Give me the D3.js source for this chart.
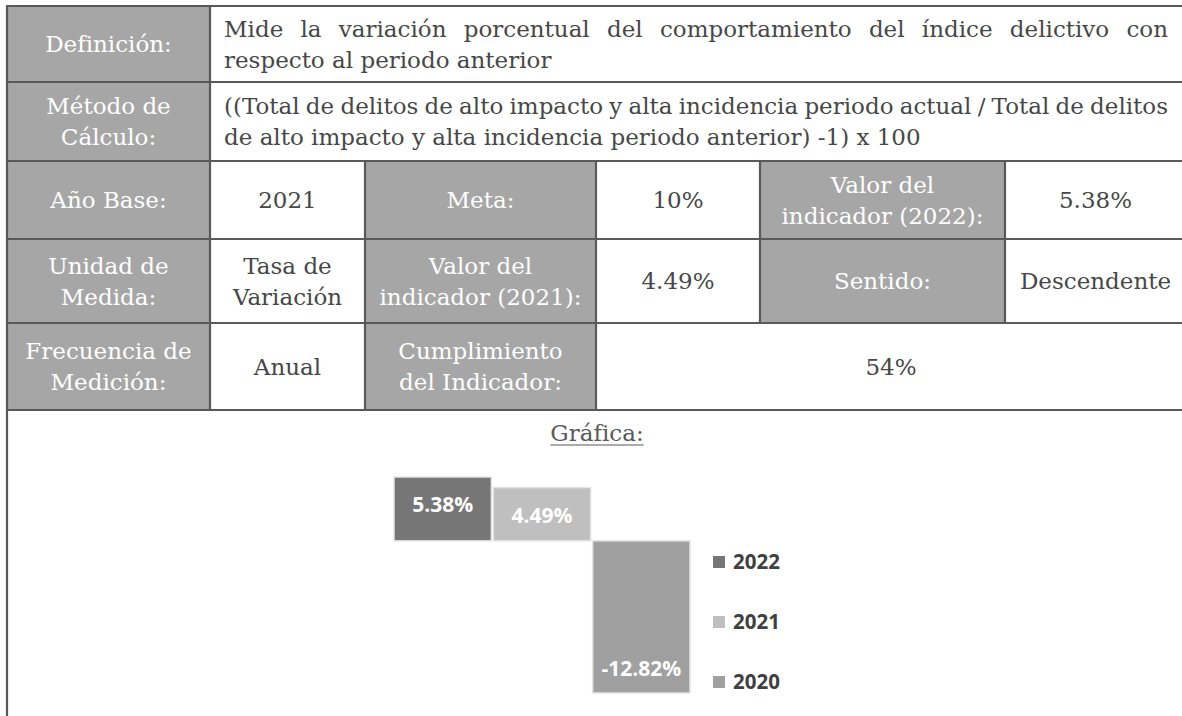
<!DOCTYPE html>
<html lang="es">
<head>
    <meta charset="UTF-8">
    <title>Ficha del indicador</title>
    <script src="https://cdn.jsdelivr.net/npm/d3@7/dist/d3.min.js"></script>
    <style>
        body {
            margin: 0;
            padding: 0;
            background: #fff;
        }
        svg {
            display: block;
        }
        .cell-text {
            font-family: 'DejaVu Serif', serif;
            font-size: 23px;
        }
        .bar-label {
            font-family: 'Open Sans', sans-serif;
            font-weight: 700;
            font-size: 21px;
            fill: #fff;
        }
        .legend-text {
            font-family: 'Open Sans', sans-serif;
            font-weight: 700;
            font-size: 20.5px;
            fill: #404040;
        }
    </style>
</head>
<body>
<script>
    // chart data
    const years = ["2022", "2021", "2020"];
    const values = [5.38, 4.49, -12.82];
    const barColors = ["#767676", "#bfbfbf", "#a0a0a0"];
    const chartTitle = "Gráfica:";

    // table contents, one array per row: label cells are grey
    const rowDefinicion = [
        { lines: ["Definición:"], label: true },
        { lines: ["Mide la variación porcentual del comportamiento del índice delictivo con", "respecto al periodo anterior"], span: 5, left: true }
    ];
    const rowMetodo = [
        { lines: ["Método de", "Cálculo:"], label: true },
        { lines: ["((Total de delitos de alto impacto y alta incidencia periodo actual / Total de delitos", "de alto impacto y alta incidencia periodo anterior) -1) x 100"], span: 5, left: true }
    ];
    const rowBase = [
        { lines: ["Año Base:"], label: true },
        { lines: ["2021"] },
        { lines: ["Meta:"], label: true },
        { lines: ["10%"] },
        { lines: ["Valor del", "indicador (2022):"], label: true },
        { lines: ["5.38%"] }
    ];
    const rowUnidad = [
        { lines: ["Unidad de", "Medida:"], label: true },
        { lines: ["Tasa de", "Variación"] },
        { lines: ["Valor del", "indicador (2021):"], label: true },
        { lines: ["4.49%"] },
        { lines: ["Sentido:"], label: true },
        { lines: ["Descendente"] }
    ];
    const rowFrecuencia = [
        { lines: ["Frecuencia de", "Medición:"], label: true },
        { lines: ["Anual"] },
        { lines: ["Cumplimiento", "del Indicador:"], label: true },
        { lines: ["54%"], span: 3 }
    ];
    const tableRows = [rowDefinicion, rowMetodo, rowBase, rowUnidad, rowFrecuencia];

    // layout
    const W = 1182, H = 716;
    const colEdges = [7, 210, 365, 596, 760, 1005, 1192];
    const rowEdges = [6, 82, 161, 239, 323, 410];
    const lineGap = 31;
    const borderColor = "#595959";
    const labelFill = "#a6a6a6";
    const textColor = "#474747";

    const svg = d3.select("body").append("svg")
        .attr("width", W)
        .attr("height", H);

    const table = svg.append("g").attr("class", "table");

    tableRows.forEach((row, r) => {
        let c = 0;
        const y0 = rowEdges[r], y1 = rowEdges[r + 1];
        const cy = (y0 + y1) / 2;
        row.forEach(cell => {
            const span = cell.span || 1;
            const x0 = colEdges[c], x1 = colEdges[c + span];
            c += span;

            table.append("rect")
                .attr("x", x0)
                .attr("y", y0)
                .attr("width", x1 - x0)
                .attr("height", y1 - y0)
                .attr("fill", cell.label ? labelFill : "#fff");

            const n = cell.lines.length;
            const firstBase = cy - (n - 1) * lineGap / 2 + 8;
            const rightEdge = Math.min(x1, W) - 14;

            cell.lines.forEach((line, i) => {
                const t = table.append("text")
                    .attr("class", "cell-text")
                    .attr("y", firstBase + i * lineGap)
                    .attr("fill", cell.label ? "#fff" : textColor)
                    .text(line);
                if (cell.left) {
                    t.attr("x", x0 + 14).attr("text-anchor", "start");
                    // justify every line but the last one
                    if (i < n - 1) {
                        const natural = t.node().getComputedTextLength();
                        const gaps = line.split(" ").length - 1;
                        const target = rightEdge - (x0 + 14);
                        t.style("word-spacing", ((target - natural) / gaps) + "px");
                    }
                } else {
                    t.attr("x", (x0 + Math.min(x1, W + 4)) / 2).attr("text-anchor", "middle");
                }
            });
        });
    });

    // grid lines
    const grid = svg.append("g")
        .attr("stroke", borderColor)
        .attr("stroke-width", 2.2);

    rowEdges.forEach(y => {
        grid.append("line").attr("x1", 7).attr("x2", W).attr("y1", y).attr("y2", y);
    });
    grid.append("line").attr("x1", 7).attr("x2", 7).attr("y1", 5).attr("y2", H);

    tableRows.forEach((row, r) => {
        let c = 0;
        row.forEach(cell => {
            c += cell.span || 1;
            if (c < colEdges.length - 1) {
                grid.append("line")
                    .attr("x1", colEdges[c]).attr("x2", colEdges[c])
                    .attr("y1", rowEdges[r]).attr("y2", rowEdges[r + 1]);
            }
        });
    });

    // chart title
    const titleText = svg.append("text")
        .attr("class", "cell-text")
        .attr("x", 597)
        .attr("y", 441)
        .attr("text-anchor", "middle")
        .attr("fill", "#595959")
        .text(chartTitle);
    const tw = titleText.node().getComputedTextLength();
    svg.append("line")
        .attr("x1", 597 - tw / 2).attr("x2", 597 + tw / 2)
        .attr("y1", 445).attr("y2", 445)
        .attr("stroke", "#595959")
        .attr("stroke-width", 1.2);

    // bar chart
    const data = years.map((y, i) => ({ year: y, value: values[i], color: barColors[i] }));

    const x = d3.scaleBand()
        .domain(years)
        .range([394, 690])
        .paddingInner(0.02);

    const yScale = d3.scaleLinear()
        .domain(d3.extent(values))
        .range([693, 477]);

    const chart = svg.append("g").attr("class", "chart");

    chart.selectAll(".bar")
        .data(data)
        .enter()
        .append("rect")
        .attr("class", "bar")
        .attr("x", d => x(d.year))
        .attr("width", x.bandwidth())
        .attr("y", d => yScale(Math.max(0, d.value)))
        .attr("height", d => Math.abs(yScale(d.value) - yScale(0)))
        .attr("fill", d => d.color)
        .attr("stroke", "#e4e4e4")
        .attr("stroke-width", 1.5);

    chart.selectAll(".bar-label")
        .data(data)
        .enter()
        .append("text")
        .attr("class", "bar-label")
        .attr("x", d => x(d.year) + x.bandwidth() / 2)
        .attr("y", d => d.value >= 0 ? yScale(d.value) + 28 : yScale(d.value) - 24)
        .attr("dy", "0.35em")
        .attr("text-anchor", "middle")
        .text(d => d.value.toFixed(2) + "%");

    // legend
    const ly = d3.scalePoint().domain(years).range([562, 682]);

    const legend = svg.append("g").attr("class", "legend");
    legend.selectAll("rect")
        .data(data)
        .enter()
        .append("rect")
        .attr("x", 713)
        .attr("y", d => ly(d.year) - 6)
        .attr("width", 12)
        .attr("height", 12)
        .attr("fill", d => d.color);

    legend.selectAll("text")
        .data(data)
        .enter()
        .append("text")
        .attr("class", "legend-text")
        .attr("x", 733)
        .attr("y", d => ly(d.year))
        .attr("dy", "0.36em")
        .text(d => d.year);
</script>
</body>
</html>
